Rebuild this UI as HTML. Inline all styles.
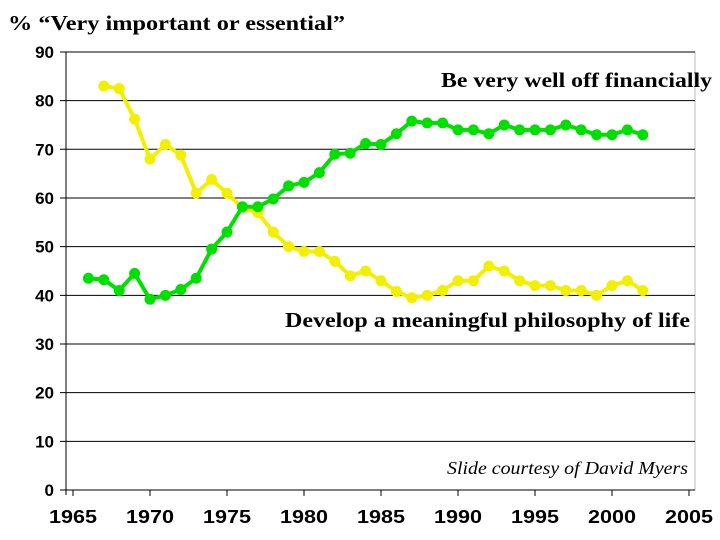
<!DOCTYPE html>
<html><head><meta charset="utf-8"><style>
body{margin:0;background:#fff;width:720px;height:540px;overflow:hidden}
svg{display:block}
</style></head><body>
<svg id="chart" width="720" height="540" font-family="Liberation Sans, sans-serif">
<text x="8" y="30" textLength="337" lengthAdjust="spacingAndGlyphs" font-family="Liberation Serif, serif" font-weight="bold" font-size="21">% “Very important or essential”</text>
<g id="grid"></g><g id="series"></g>
<text x="441" y="87" textLength="271" lengthAdjust="spacingAndGlyphs" font-family="Liberation Serif, serif" font-weight="bold" font-size="21">Be very well off financially</text>
<text x="285" y="327" textLength="405" lengthAdjust="spacingAndGlyphs" font-family="Liberation Serif, serif" font-weight="bold" font-size="21">Develop a meaningful philosophy of life</text>
<text x="447" y="474" textLength="241" lengthAdjust="spacingAndGlyphs" font-family="Liberation Serif, serif" font-style="italic" font-size="18">Slide courtesy of David Myers</text>
</svg>
<script>
const yTicks=[0,10,20,30,40,50,60,70,80,90];
const xTicks=[1965,1970,1975,1980,1985,1990,1995,2000,2005];
const greenStart=1966;
const greenValues=[43.5,43.2,41,44.5,39.2,40,41.2,43.5,49.5,53,58.2,58.2,59.8,62.5,63.2,65.2,69,69.2,71.2,71,73.2,75.8,75.4,75.4,74,74,73.2,75,74,74,74,75,74,73,73,74,73];
const yellowStart=1967;
const yellowValues=[83,82.5,76.2,68,71,68.8,61,63.8,61,58,57,53,50,49,49,47,44,45,43,40.8,39.5,40,41,43,43,46,45,43,42,42,41,41,40,42,43,41];
const NS='http://www.w3.org/2000/svg';
const X=yr=>73+(yr-1965)*15.4;
const Y=v=>490-v*4.867;
const grid=document.getElementById('grid'),ser=document.getElementById('series');
function mk(tag,attrs,parent){const e=document.createElementNS(NS,tag);for(const k in attrs)e.setAttribute(k,attrs[k]);parent.appendChild(e);return e;}
mk('rect',{x:66,y:Y(90),width:629,height:Y(0)-Y(90),fill:'none',stroke:'#bbb'},grid);
yTicks.forEach(t=>{
 const l=mk('line',{x1:60,x2:695,y1:Y(t),y2:Y(t),stroke:'#000','stroke-width':1},grid);
 
 
 const tx=mk('text',{x:54,y:Y(t)+6,'text-anchor':'end','font-size':17,'font-weight':'bold'},grid);
 tx.textContent=t;
 
 
});
mk('line',{x1:66,x2:66,y1:Y(90),y2:Y(0)+5,stroke:'#000'},grid);
xTicks.forEach(t=>{
 mk('line',{x1:X(t),x2:X(t),y1:Y(0),y2:Y(0)+6,stroke:'#000'},grid);
 const tx=mk('text',{x:X(t)-24,y:523,'font-size':18,'font-weight':'bold',textLength:48,lengthAdjust:'spacingAndGlyphs'},grid);
 tx.textContent=t;
 
 
});
function draw(vals,start,color,name){
 const pts=vals.map((v,i)=>X(start+i)+','+Y(v)).join(' ');
 const pl=mk('polyline',{points:pts,fill:'none',stroke:color,'stroke-width':4},ser);
 
 
 vals.forEach((v,i)=>{
  const c=mk('circle',{cx:X(start+i),cy:Y(v),r:5.5,fill:color},ser);
  
  
 });
}
draw(yellowValues,yellowStart,'#f2f000','philosophy');
draw(greenValues,greenStart,'#00e000','financially');
</script>
</body></html>
